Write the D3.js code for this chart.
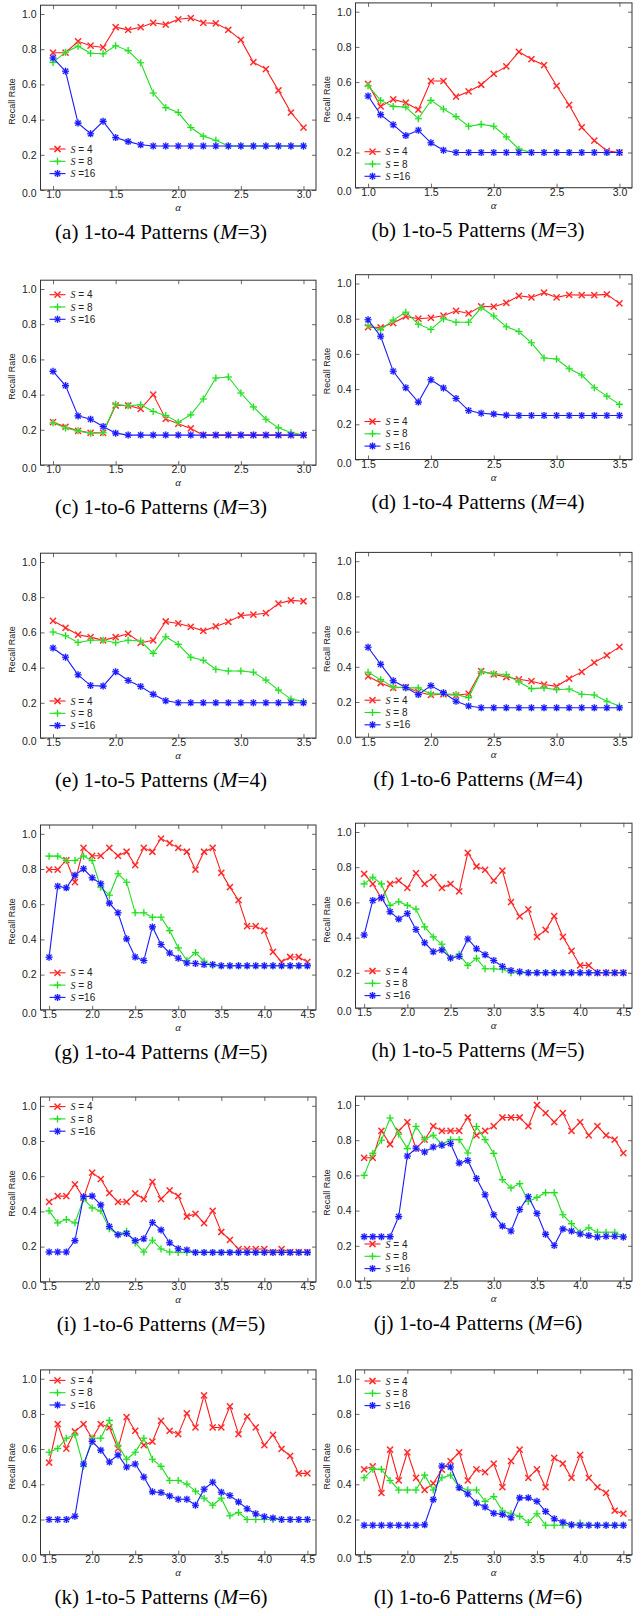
<!DOCTYPE html>
<html><head><meta charset="utf-8">
<script src="https://cdn.jsdelivr.net/npm/d3@7"></script>
<style>body{margin:0;background:#fff}</style></head>
<body><svg id="c" width="643" height="1616"></svg>
<script>
// ---------- sample positions (alpha) ----------
const alphaLow  = [1.0,1.1,1.2,1.3,1.4,1.5,1.6,1.7,1.8,1.9,2.0,2.1,2.2,2.3,2.4,2.5,2.6,2.7,2.8,2.9,3.0];
const alphaMid  = [1.5,1.6,1.7,1.8,1.9,2.0,2.1,2.2,2.3,2.4,2.5,2.6,2.7,2.8,2.9,3.0,3.1,3.2,3.3,3.4,3.5];
const alphaHigh = [1.5,1.6,1.7,1.8,1.9,2.0,2.1,2.2,2.3,2.4,2.5,2.6,2.7,2.8,2.9,3.0,3.1,3.2,3.3,3.4,3.5,3.6,3.7,3.8,3.9,4.0,4.1,4.2,4.3,4.4,4.5];

// ---------- tick labels ----------
const xTicksLow  = [1.0,1.5,2.0,2.5,3.0];
const xTicksMid  = [1.5,2.0,2.5,3.0,3.5];
const xTicksHigh = [1.5,2.0,2.5,3.0,3.5,4.0,4.5];
const yTicks = [0.0,0.2,0.4,0.6,0.8,1.0];

const seriesNames = ["S = 4","S = 8","S =16"];

// ---------- series values ----------
const a_s4  = [0.78,0.78,0.845,0.82,0.81,0.925,0.91,0.925,0.95,0.94,0.97,0.977,0.95,0.947,0.91,0.853,0.726,0.687,0.566,0.44,0.355];
const a_s8  = [0.725,0.783,0.817,0.777,0.774,0.819,0.792,0.723,0.551,0.468,0.44,0.355,0.306,0.283,0.25,0.25,0.25,0.25,0.25,0.25,0.25];
const a_s16 = [0.75,0.675,0.38,0.32,0.39,0.298,0.275,0.257,0.25,0.25,0.25,0.25,0.25,0.25,0.25,0.25,0.25,0.25,0.25,0.25,0.25];

const b_s4  = [0.59,0.462,0.502,0.483,0.443,0.606,0.606,0.517,0.547,0.585,0.647,0.689,0.772,0.73,0.696,0.579,0.47,0.343,0.268,0.209,0.2];
const b_s8  = [0.579,0.496,0.462,0.458,0.392,0.496,0.447,0.404,0.349,0.36,0.349,0.289,0.219,0.2,0.2,0.2,0.2,0.2,0.2,0.2,0.2];
const b_s16 = [0.521,0.415,0.358,0.296,0.326,0.255,0.213,0.2,0.2,0.2,0.2,0.2,0.2,0.2,0.2,0.2,0.2,0.2,0.2,0.2,0.2];

const c_s4  = [0.243,0.217,0.194,0.183,0.183,0.338,0.338,0.319,0.4,0.262,0.234,0.208,0.17,0.17,0.17,0.17,0.17,0.17,0.17,0.17,0.17];
const c_s8  = [0.24,0.21,0.194,0.18,0.183,0.345,0.336,0.342,0.304,0.281,0.243,0.285,0.375,0.494,0.5,0.409,0.33,0.26,0.211,0.185,0.17];
const c_s16 = [0.532,0.451,0.279,0.26,0.219,0.181,0.17,0.17,0.17,0.17,0.17,0.17,0.17,0.17,0.17,0.17,0.17,0.17,0.17,0.17,0.17];

const d_s4  = [0.752,0.75,0.775,0.813,0.8,0.805,0.817,0.845,0.83,0.87,0.868,0.89,0.93,0.921,0.948,0.921,0.936,0.934,0.934,0.938,0.887];
const d_s8  = [0.761,0.737,0.792,0.837,0.769,0.739,0.8,0.78,0.78,0.862,0.815,0.754,0.727,0.663,0.577,0.571,0.516,0.48,0.408,0.36,0.313];
const d_s16 = [0.794,0.7,0.501,0.408,0.326,0.453,0.406,0.347,0.278,0.263,0.258,0.252,0.25,0.25,0.25,0.25,0.25,0.25,0.25,0.25,0.25];

const e_s4  = [0.666,0.626,0.587,0.573,0.555,0.573,0.592,0.541,0.555,0.662,0.651,0.632,0.609,0.634,0.66,0.696,0.701,0.709,0.764,0.782,0.777];
const e_s8  = [0.602,0.581,0.543,0.555,0.555,0.541,0.555,0.551,0.481,0.575,0.532,0.459,0.442,0.391,0.381,0.381,0.374,0.329,0.272,0.221,0.208];
const e_s16 = [0.511,0.459,0.359,0.298,0.295,0.376,0.327,0.293,0.248,0.212,0.2,0.2,0.2,0.2,0.2,0.2,0.2,0.2,0.2,0.2,0.2];

const f_s4  = [0.346,0.308,0.28,0.285,0.257,0.24,0.244,0.238,0.247,0.376,0.357,0.342,0.329,0.318,0.299,0.289,0.333,0.371,0.424,0.465,0.513];
const f_s8  = [0.369,0.327,0.285,0.28,0.28,0.246,0.247,0.242,0.225,0.371,0.361,0.355,0.314,0.276,0.28,0.27,0.274,0.244,0.24,0.204,0.177];
const f_s16 = [0.511,0.414,0.321,0.282,0.242,0.293,0.253,0.204,0.177,0.167,0.167,0.167,0.167,0.167,0.167,0.167,0.167,0.167,0.167,0.167,0.167];

const g_s4  = [0.797,0.797,0.85,0.725,0.92,0.875,0.875,0.92,0.875,0.898,0.822,0.92,0.898,0.973,0.947,0.92,0.898,0.797,0.898,0.92,0.778,0.697,0.623,0.475,0.475,0.45,0.329,0.272,0.3,0.3,0.272];
const g_s8  = [0.873,0.873,0.848,0.848,0.873,0.848,0.697,0.651,0.773,0.725,0.551,0.551,0.526,0.526,0.45,0.352,0.28,0.325,0.276,0.251,0.25,0.25,0.25,0.25,0.25,0.25,0.25,0.25,0.25,0.25,0.25];
const g_s16 = [0.299,0.702,0.693,0.765,0.801,0.75,0.716,0.606,0.551,0.403,0.3,0.28,0.471,0.371,0.323,0.293,0.266,0.263,0.257,0.257,0.25,0.25,0.25,0.25,0.25,0.25,0.25,0.25,0.25,0.25,0.25];

const h_s4  = [0.762,0.705,0.623,0.705,0.724,0.682,0.766,0.705,0.743,0.682,0.705,0.663,0.882,0.804,0.785,0.724,0.781,0.602,0.52,0.56,0.404,0.444,0.522,0.404,0.324,0.242,0.242,0.2,0.2,0.2,0.2];
const h_s8  = [0.705,0.743,0.705,0.583,0.604,0.583,0.562,0.461,0.404,0.362,0.282,0.305,0.242,0.282,0.223,0.223,0.219,0.2,0.2,0.2,0.2,0.2,0.2,0.2,0.2,0.2,0.2,0.2,0.2,0.2,0.2];
const h_s16 = [0.415,0.611,0.627,0.547,0.505,0.537,0.446,0.371,0.32,0.33,0.284,0.293,0.392,0.337,0.303,0.27,0.236,0.213,0.206,0.2,0.2,0.2,0.2,0.2,0.2,0.2,0.2,0.2,0.2,0.2,0.2];

const i_s4  = [0.454,0.487,0.487,0.553,0.477,0.62,0.584,0.504,0.454,0.454,0.502,0.47,0.568,0.47,0.519,0.487,0.371,0.386,0.333,0.403,0.283,0.238,0.186,0.186,0.186,0.186,0.169,0.186,0.169,0.169,0.169];
const i_s8  = [0.403,0.335,0.354,0.335,0.47,0.42,0.403,0.302,0.268,0.287,0.221,0.169,0.236,0.186,0.169,0.167,0.167,0.167,0.167,0.167,0.167,0.167,0.167,0.167,0.167,0.167,0.167,0.167,0.167,0.167,0.167];
const i_s16 = [0.169,0.169,0.169,0.234,0.483,0.487,0.437,0.314,0.268,0.274,0.234,0.245,0.337,0.295,0.222,0.188,0.181,0.167,0.167,0.167,0.167,0.167,0.167,0.167,0.167,0.167,0.167,0.167,0.167,0.167,0.167];

const j_s4  = [0.7,0.7,0.853,0.777,0.853,0.903,0.752,0.803,0.88,0.853,0.853,0.853,0.929,0.828,0.853,0.88,0.929,0.929,0.929,0.88,1.0,0.954,0.903,0.954,0.853,0.903,0.828,0.88,0.828,0.803,0.727];
const j_s8  = [0.6,0.725,0.8,0.926,0.834,0.752,0.878,0.805,0.828,0.777,0.803,0.803,0.727,0.878,0.803,0.725,0.576,0.529,0.553,0.452,0.475,0.502,0.502,0.376,0.326,0.277,0.302,0.277,0.277,0.277,0.252];
const j_s16 = [0.252,0.252,0.252,0.252,0.366,0.71,0.754,0.733,0.761,0.771,0.781,0.67,0.685,0.582,0.49,0.376,0.313,0.284,0.406,0.479,0.384,0.265,0.202,0.296,0.284,0.267,0.258,0.25,0.254,0.254,0.25];

const k_s4  = [0.523,0.742,0.603,0.7,0.742,0.662,0.742,0.723,0.603,0.782,0.704,0.622,0.643,0.761,0.704,0.685,0.803,0.723,0.905,0.723,0.723,0.843,0.685,0.784,0.723,0.622,0.681,0.601,0.561,0.462,0.462];
const k_s8  = [0.582,0.603,0.662,0.681,0.502,0.662,0.662,0.763,0.622,0.542,0.582,0.662,0.542,0.502,0.422,0.422,0.401,0.361,0.321,0.281,0.321,0.221,0.24,0.2,0.2,0.2,0.2,0.2,0.2,0.2,0.2];
const k_s16 = [0.2,0.2,0.2,0.218,0.515,0.643,0.594,0.527,0.567,0.498,0.515,0.441,0.357,0.353,0.334,0.315,0.315,0.281,0.372,0.412,0.355,0.336,0.3,0.261,0.233,0.216,0.208,0.2,0.2,0.2,0.2];

const l_s4  = [0.485,0.502,0.351,0.597,0.422,0.582,0.437,0.368,0.405,0.483,0.532,0.582,0.422,0.485,0.469,0.517,0.384,0.532,0.597,0.437,0.485,0.384,0.55,0.517,0.437,0.567,0.437,0.384,0.351,0.25,0.233];
const l_s8  = [0.437,0.485,0.485,0.422,0.368,0.368,0.368,0.452,0.368,0.437,0.452,0.384,0.368,0.368,0.303,0.33,0.25,0.233,0.218,0.183,0.233,0.167,0.167,0.167,0.167,0.18,0.167,0.167,0.167,0.167,0.167];
const l_s16 = [0.167,0.167,0.167,0.167,0.167,0.167,0.167,0.17,0.313,0.504,0.498,0.38,0.345,0.294,0.271,0.235,0.229,0.21,0.323,0.323,0.303,0.246,0.204,0.185,0.17,0.167,0.167,0.167,0.167,0.167,0.167];

// ---------- captions ----------
const captions = [
  ["(a) 1-to-4 Patterns (","3)"],["(b) 1-to-5 Patterns (","3)"],
  ["(c) 1-to-6 Patterns (","3)"],["(d) 1-to-4 Patterns (","4)"],
  ["(e) 1-to-5 Patterns (","4)"],["(f) 1-to-6 Patterns (","4)"],
  ["(g) 1-to-4 Patterns (","5)"],["(h) 1-to-5 Patterns (","5)"],
  ["(i) 1-to-6 Patterns (","5)"],["(j) 1-to-4 Patterns (","6)"],
  ["(k) 1-to-5 Patterns (","6)"],["(l) 1-to-6 Patterns (","6)"]
];

const panelData = [
  {alpha:alphaLow, ticks:xTicksLow, series:[a_s4,a_s8,a_s16]},
  {alpha:alphaLow, ticks:xTicksLow, series:[b_s4,b_s8,b_s16]},
  {alpha:alphaLow, ticks:xTicksLow, series:[c_s4,c_s8,c_s16]},
  {alpha:alphaMid, ticks:xTicksMid, series:[d_s4,d_s8,d_s16]},
  {alpha:alphaMid, ticks:xTicksMid, series:[e_s4,e_s8,e_s16]},
  {alpha:alphaMid, ticks:xTicksMid, series:[f_s4,f_s8,f_s16]},
  {alpha:alphaHigh, ticks:xTicksHigh, series:[g_s4,g_s8,g_s16]},
  {alpha:alphaHigh, ticks:xTicksHigh, series:[h_s4,h_s8,h_s16]},
  {alpha:alphaHigh, ticks:xTicksHigh, series:[i_s4,i_s8,i_s16]},
  {alpha:alphaHigh, ticks:xTicksHigh, series:[j_s4,j_s8,j_s16]},
  {alpha:alphaHigh, ticks:xTicksHigh, series:[k_s4,k_s8,k_s16]},
  {alpha:alphaHigh, ticks:xTicksHigh, series:[l_s4,l_s8,l_s16]}
];

// ---------- layout (positions / styles) ----------
const colX = [[40.5,316],[355.5,632]];
const capX = [161,478];
const ylabX = [15,330];
const layout = [
  {col:0,y0:190,  leg:"b",lo:-41},{col:1,y0:187.7,leg:"b",lo:-36},
  {col:0,y0:465,  leg:"t",lo:5.7},{col:1,y0:459.5,leg:"b",lo:-38},
  {col:0,y0:738,  leg:"b",lo:-37},{col:1,y0:737.2,leg:"b",lo:-37},
  {col:0,y0:1009.8,leg:"b",lo:-37},{col:1,y0:1008,leg:"b",lo:-37},
  {col:0,y0:1281.8,leg:"t",lo:0.8},{col:1,y0:1281,leg:"b",lo:-37},
  {col:0,y0:1554.7,leg:"t",lo:1.7},{col:1,y0:1554.7,leg:"t",lo:2.3}
];
const unit = 176;
const colors = ["#ff1a1a","#1ede1e","#1a1aff"];
const halos  = ["#ff9a9a","#9af09a","#9a9aff"];
const markerPath = [
  "M-3,-3L3,3M-3,3L3,-3",
  "M-3.5,0L3.5,0M0,-3.5L0,3.5",
  "M-3.5,0L3.5,0M0,-3.5L0,3.5M-2.6,-2.6L2.6,2.6M-2.6,2.6L2.6,-2.6"
];
const sansF = "'Liberation Sans', Arial, sans-serif";
const serifF = "'Liberation Serif', 'Times New Roman', serif";

const svg = d3.select("#c");
svg.append("rect").attr("width",643).attr("height",1616).attr("fill","#fff");

panelData.forEach((pd, idx) => {
  const L = layout[idx];
  const [xl, xr] = colX[L.col];
  const y0 = L.y0;
  const a0 = pd.alpha[0], a1 = pd.alpha[pd.alpha.length-1];
  const x = d3.scaleLinear().domain([a0-0.1, a1+0.1]).range([xl, xr]);
  const y = d3.scaleLinear().domain([0, 1.05]).range([y0, y0 - 1.05*unit]);
  const g = svg.append("g");

  // axes
  const yAx = g.append("g").attr("transform",`translate(${xl},0)`)
    .call(d3.axisLeft(y).tickValues(yTicks).tickFormat(d3.format(".1f")).tickSize(-4).tickPadding(4));
  const yAxR = g.append("g").attr("transform",`translate(${xr},0)`)
    .call(d3.axisRight(y).tickValues(yTicks).tickFormat("").tickSize(-4));
  const xAx = g.append("g").attr("transform",`translate(0,${y0})`)
    .call(d3.axisBottom(x).tickValues(pd.ticks).tickFormat(d3.format(".1f")).tickSize(-4).tickPadding(2));
  const xAxT = g.append("g").attr("transform",`translate(0,${y.range()[1]})`)
    .call(d3.axisTop(x).tickValues(pd.ticks).tickFormat("").tickSize(-4));
  [yAx,yAxR,xAx,xAxT].forEach(s=>{
    s.select(".domain").remove();
    s.selectAll("line").attr("stroke","#444").attr("stroke-width",0.8);
    s.selectAll("text").attr("font-family",sansF).attr("font-size",10.5).attr("fill","#222");
  });
  xAx.selectAll("text").attr("dy","0.6em");
  yAx.selectAll("text").filter(d=>d===0).attr("dy","0.62em");

  // frame
  g.append("rect").attr("x",xl).attr("y",y.range()[1]).attr("width",xr-xl).attr("height",y0-y.range()[1])
    .attr("fill","none").attr("stroke","#333").attr("stroke-width",1);

  // labels
  g.append("text").attr("transform",`translate(${ylabX[L.col]},${(y0+y.range()[1])/2+4}) rotate(-90)`)
    .attr("text-anchor","middle").attr("font-family",sansF).attr("font-size",9).attr("fill","#222").text("Recall Rate");
  g.append("text").attr("x",(xl+xr)/2).attr("y",y0+21).attr("text-anchor","middle")
    .attr("font-family",serifF).attr("font-style","italic").attr("font-size",11).attr("fill","#222").text("α");
  const cap = svg.append("text").attr("x",capX[L.col]).attr("y",y0+49).attr("text-anchor","middle")
    .attr("font-family",serifF).attr("font-size",21).attr("fill","#000");
  cap.append("tspan").text(captions[idx][0]);
  cap.append("tspan").attr("font-style","italic").text("M");
  cap.append("tspan").text("=" + captions[idx][1]);

  // series
  const line = d3.line().x((d,i)=>x(pd.alpha[i])).y(d=>y(d));
  pd.series.forEach((vals, si) => {
    g.append("path").datum(vals).attr("d",line).attr("fill","none")
      .attr("stroke",colors[si]).attr("stroke-width",1.1);
    const mk = g.append("g");
    mk.selectAll("path.h").data(vals).join("path")
      .attr("transform",(d,i)=>`translate(${x(pd.alpha[i])},${y(d)})`)
      .attr("d",markerPath[si]).attr("fill","none").attr("stroke",halos[si]).attr("stroke-width",2.2).attr("opacity",0.6);
    mk.selectAll("path.m").data(vals).join("path")
      .attr("transform",(d,i)=>`translate(${x(pd.alpha[i])},${y(d)})`)
      .attr("d",markerPath[si]).attr("fill","none").attr("stroke",colors[si]).attr("stroke-width",1.1);
  });

  // legend
  const legY0 = L.leg === "b" ? y0 + L.lo : y(1.0) + L.lo;
  seriesNames.forEach((nm, si) => {
    const ly = legY0 + si*12.3;
    const lg = g.append("g");
    lg.append("line").attr("x1",xl+9).attr("x2",xl+25).attr("y1",ly).attr("y2",ly)
      .attr("stroke",colors[si]).attr("stroke-width",1.1);
    lg.append("path").attr("transform",`translate(${xl+17},${ly})`).attr("d",markerPath[si])
      .attr("fill","none").attr("stroke",halos[si]).attr("stroke-width",2.2).attr("opacity",0.6);
    lg.append("path").attr("transform",`translate(${xl+17},${ly})`).attr("d",markerPath[si])
      .attr("fill","none").attr("stroke",colors[si]).attr("stroke-width",1.1);
    const t = lg.append("text").attr("x",xl+30).attr("y",ly+3.6).attr("font-size",10).attr("fill","#222");
    t.append("tspan").attr("font-family",serifF).attr("font-style","italic").text("S");
    t.append("tspan").attr("font-family",sansF).text(nm.slice(1));
  });
});
</script>
</body></html>
